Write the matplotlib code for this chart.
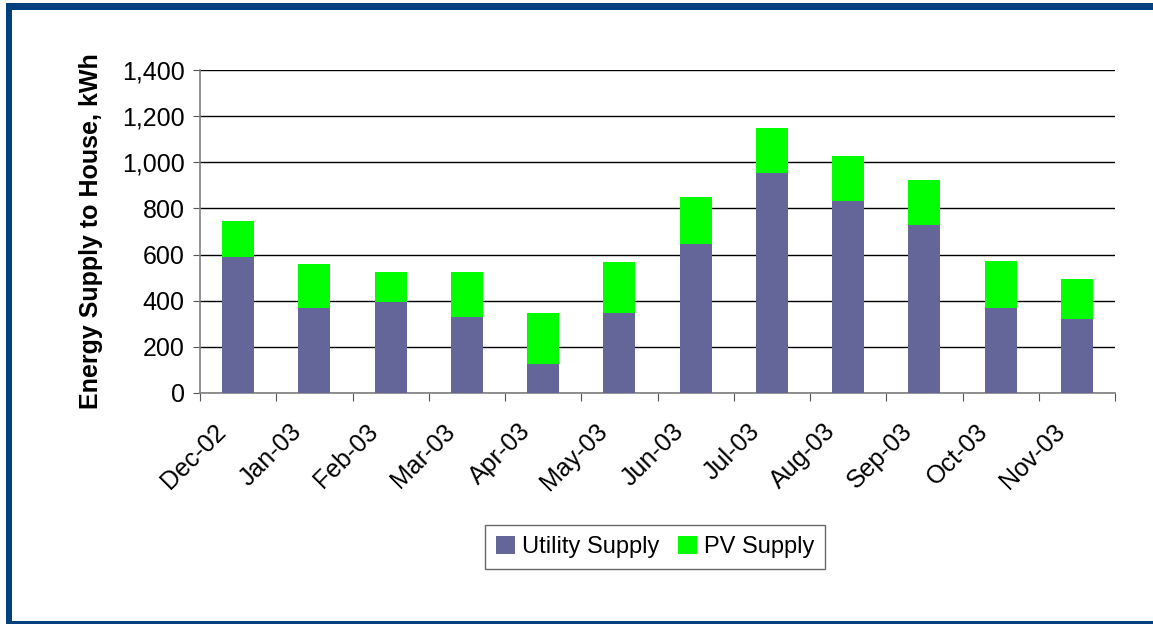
import matplotlib
matplotlib.use('Agg')

import matplotlib.pyplot as plt
import numpy as np
from matplotlib.patches import Rectangle

plt.rcParams['font.family'] = ['Liberation Sans', 'DejaVu Sans']

months = ["Dec-02", "Jan-03", "Feb-03", "Mar-03", "Apr-03", "May-03",
          "Jun-03", "Jul-03", "Aug-03", "Sep-03", "Oct-03", "Nov-03"]
utility = [589, 368, 394, 329, 126, 347, 646, 953, 832, 728, 368, 321]
total = [745, 559, 524, 524, 347, 568, 849, 1149, 1027, 923, 572, 494]
pv = [t - u for t, u in zip(total, utility)]

W, H = 1153, 624


def plot_supply(out_file):
    fig = plt.figure(figsize=(W / 100, H / 100), dpi=100)

    # blue frame round the figure (px -> fig fraction, y from the bottom)
    frame_col = '#02417E'
    for (x, y, w, h) in [(6, 0, 6, H - 3), (6, H - 10, W - 6, 7), (6, 0, W - 6, 3)]:
        fig.patches.append(Rectangle((x / W, y / H), w / W, h / H,
                                     transform=fig.transFigure,
                                     facecolor=frame_col, edgecolor='none'))

    ax = fig.add_axes([200 / W, (H - 393) / H, 915 / W, 323 / H])

    x = np.arange(len(months))
    ax.bar(x, utility, width=0.42, color='#646699', label='Utility Supply', zorder=3)
    ax.bar(x, pv, width=0.42, bottom=utility, color='#00FF00', label='PV Supply', zorder=3)

    ax.set_xlim(-0.5, len(months) - 0.5)
    ax.set_ylim(0, 1400)
    ax.set_yticks(np.arange(0, 1401, 200))
    ax.set_yticklabels(["{:,}".format(v) for v in range(0, 1401, 200)], fontsize=18)
    ax.grid(True, axis='y', color='black', linewidth=1.0, zorder=0)

    # category ticks between bars; labels nudged a little left of bar centre
    ax.set_xticks(np.arange(-0.5, len(months)), minor=False)
    ax.set_xticklabels([])
    ax.set_xticks(x - 0.1, minor=True)
    ax.set_xticklabels(months, minor=True, rotation=45, ha='right', va='bottom',
                       rotation_mode='anchor', fontsize=18)
    ax.tick_params(axis='x', which='minor', length=0, pad=31)
    ax.tick_params(axis='x', which='major', length=6, direction='out', color='#555555')
    ax.tick_params(axis='y', length=5, direction='out', color='#555555', pad=6)

    for s in ['top', 'right']:
        ax.spines[s].set_visible(False)
    for s in ['left', 'bottom']:
        ax.spines[s].set_color('#808080')
        ax.spines[s].set_linewidth(1.2)

    ax.set_ylabel("Energy Supply to House, kWh", fontsize=18, fontweight='bold', labelpad=14)

    fig.legend(loc='center', bbox_to_anchor=(655 / W, 1 - 547 / H), ncol=2,
               fontsize=17, frameon=True, fancybox=False, edgecolor='#444444',
               handlelength=0.8, handleheight=0.8, handletextpad=0.3,
               columnspacing=0.8, borderpad=0.45)

    fig.savefig(out_file, dpi=100)
    plt.close(fig)


def main():
    plot_supply("out.png")


if __name__ == "__main__":
    main()
